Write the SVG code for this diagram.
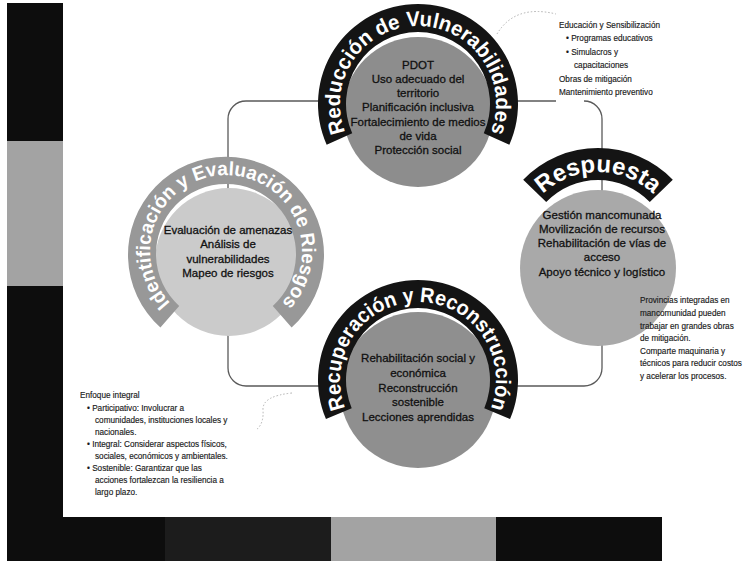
<svg xmlns="http://www.w3.org/2000/svg" width="752" height="561" viewBox="0 0 752 561">
<style>
.blk{fill:#0d0d0d}
.dk{fill:#1c1c1c}
.gry{fill:#a3a3a3}
.band{fill:#141414}
.band-l{fill:#989898}
.bt{font-family:"Liberation Sans",Arial,sans-serif;font-weight:bold;fill:#ffffff}
.body{font-family:"Liberation Sans",Arial,sans-serif;font-size:11.5px;fill:#111111;stroke:#111111;stroke-width:0.3px;text-anchor:middle}
.note{font-family:"Liberation Sans",Arial,sans-serif;font-size:8.2px;fill:#1a1a1a;stroke:#1a1a1a;stroke-width:0.15px}
.conn{fill:none;stroke:#5a5a5a;stroke-width:1.3}
.faint{fill:none;stroke:#b0b0b0;stroke-width:1;stroke-dasharray:1.5 2}
</style>
<defs>
<path id="p-top" d="M 345.68 133.22 A 78 78 0 1 1 490.32 133.22"/>
<path id="p-right" d="M 541.43 195.43 A 80 80 0 0 1 654.57 195.43"/>
<path id="p-left" d="M 172.77 305.41 A 76 76 0 1 1 279.23 305.41"/>
<path id="p-bottom" d="M 345.18 407.96 A 78 78 0 1 1 490.82 407.96"/>
</defs>
<rect x="0" y="0" width="752" height="561" fill="#ffffff"/>
<g id="background">
<rect class="blk" x="7" y="3" width="56" height="138"/>
<rect class="gry" x="7" y="141" width="56" height="145"/>
<rect class="blk" x="7" y="286" width="56" height="275"/>
<rect class="blk" x="7" y="517" width="158" height="44"/>
<rect class="dk" x="165" y="517" width="166" height="44"/>
<rect class="gry" x="331" y="517" width="165" height="44"/>
<rect class="blk" x="496" y="517" width="166" height="44"/>
</g>
<g id="connectors">
<path class="conn" d="M 556 101 L 246 101 A 18 18 0 0 0 228 119 L 228 368 A 18 18 0 0 0 246 386 L 584 386 A 18 18 0 0 0 602 368 L 602 119 A 18 18 0 0 0 584 101"/>
<path class="faint" d="M 497 34 Q 515 4 556 14"/>
<path class="faint" d="M 292 393 Q 262 396 263 410 Q 264 424 256 430"/>
</g>
<g id="node-reduccion">
<circle cx="418" cy="112" r="75" fill="#8d8d8d"/>
<path class="band" d="M 326.65 144.67 A 100 100 0 1 1 509.35 144.67 L 483.77 133.28 A 72 72 0 1 0 352.23 133.28 Z"/>
<text class="bt" font-size="21"><textPath href="#p-top" startOffset="50%" text-anchor="middle" textLength="302" lengthAdjust="spacingAndGlyphs">Reducción de Vulnerabilidades</textPath></text>
<text class="body" x="418" y="68.5">PDOT</text>
<text class="body" x="418" y="82.8">Uso adecuado del</text>
<text class="body" x="418" y="97.1">territorio</text>
<text class="body" x="418" y="111.4">Planificación inclusiva</text>
<text class="body" x="418" y="125.7">Fortalecimiento de medios</text>
<text class="body" x="418" y="140">de vida</text>
<text class="body" x="418" y="154.3">Protección social</text>
</g>
<g id="node-respuesta">
<circle cx="598" cy="268" r="78" fill="#a9a9a9"/>
<path class="band" d="M 523.2 179.75 A 104 104 0 0 1 672.8 179.75 L 649.79 201.98 A 72 72 0 0 0 546.21 201.98 Z"/>
<text class="bt" font-size="24"><textPath href="#p-right" startOffset="50%" text-anchor="middle">Respuesta</textPath></text>
<text class="body" x="602" y="218.5">Gestión mancomunada</text>
<text class="body" x="602" y="232.7">Movilización de recursos</text>
<text class="body" x="602" y="247">Rehabilitación de vías de</text>
<text class="body" x="602" y="261.2">acceso</text>
<text class="body" x="602" y="275.5">Apoyo técnico y logístico</text>
</g>
<g id="node-identificacion">
<circle cx="229" cy="262" r="74" fill="#cbcbcb"/>
<path class="band-l" d="M 160.4 327.6 A 98 98 0 1 1 291.6 327.6 L 272.8 306 A 70 70 0 1 0 179.2 306 Z"/>
<text class="bt" font-size="19.5"><textPath href="#p-left" startOffset="50%" text-anchor="middle" textLength="352" lengthAdjust="spacingAndGlyphs">Identificación y Evaluación de Riesgos</textPath></text>
<text class="body" x="228" y="233.5">Evaluación de amenazas</text>
<text class="body" x="228" y="248">Análisis de</text>
<text class="body" x="228" y="262.5">vulnerabilidades</text>
<text class="body" x="228" y="277">Mapeo de riesgos</text>
</g>
<g id="node-recuperacion">
<circle cx="418" cy="390" r="78" fill="#8f8f8f"/>
<path class="band" d="M 325.95 419.07 A 100 100 0 1 1 510.05 419.07 L 484.28 408.13 A 72 72 0 1 0 351.72 408.13 Z"/>
<text class="bt" font-size="21"><textPath href="#p-bottom" startOffset="50%" text-anchor="middle" textLength="302" lengthAdjust="spacingAndGlyphs">Recuperación y Reconstrucción</textPath></text>
<text class="body" x="418" y="362">Rehabilitación social y</text>
<text class="body" x="418" y="377">económica</text>
<text class="body" x="418" y="391.5">Reconstrucción</text>
<text class="body" x="418" y="406">sostenible</text>
<text class="body" x="418" y="421">Lecciones aprendidas</text>
</g>
<g id="note-reduccion">
<text class="note" x="559" y="28">Educación y Sensibilización</text>
<text class="note" x="566" y="41">• Programas educativos</text>
<text class="note" x="566" y="55">• Simulacros y</text>
<text class="note" x="574" y="68">capacitaciones</text>
<text class="note" x="559" y="82">Obras de mitigación</text>
<text class="note" x="559" y="95">Mantenimiento preventivo</text>
</g>
<g id="note-respuesta">
<text class="note" x="640" y="303">Provincias integradas en</text>
<text class="note" x="640" y="316">mancomunidad pueden</text>
<text class="note" x="640" y="329">trabajar en grandes obras</text>
<text class="note" x="640" y="341">de mitigación.</text>
<text class="note" x="640" y="353.5">Comparte maquinaria y</text>
<text class="note" x="640" y="366">técnicos para reducir costos</text>
<text class="note" x="640" y="378.5">y acelerar los procesos.</text>
</g>
<g id="note-enfoque">
<text class="note" x="80" y="398">Enfoque integral</text>
<text class="note" x="87" y="411">• Participativo: Involucrar a</text>
<text class="note" x="95" y="423">comunidades, instituciones locales y</text>
<text class="note" x="95" y="435">nacionales.</text>
<text class="note" x="87" y="447">• Integral: Considerar aspectos físicos,</text>
<text class="note" x="95" y="459">sociales, económicos y ambientales.</text>
<text class="note" x="87" y="471">• Sostenible: Garantizar que las</text>
<text class="note" x="95" y="483">acciones fortalezcan la resiliencia a</text>
<text class="note" x="95" y="495">largo plazo.</text>
</g>
</svg>
